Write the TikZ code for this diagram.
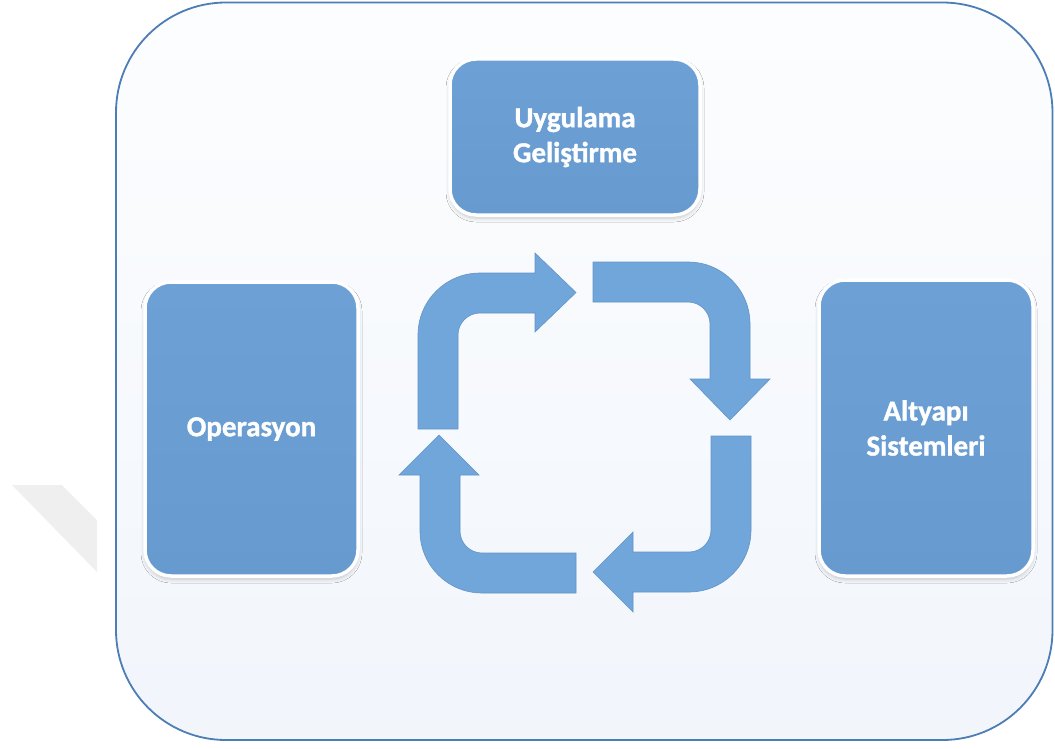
\documentclass[tikz,border=0pt]{standalone}
\usepackage{fontspec}
\setmainfont{Carlito}[BoldFeatures={FakeBold=1.2}]
\usetikzlibrary{shadows.blur}

\definecolor{framebot}{HTML}{ECF2FA}
\definecolor{frametop}{HTML}{D6E4F3}
\definecolor{frameline}{HTML}{4C7DB5}
\definecolor{boxtop}{HTML}{6DA1D6}
\definecolor{boxbot}{HTML}{679ACF}
\definecolor{arrowfill}{HTML}{70A6DA}
\definecolor{arrowline}{HTML}{6394C8}
\definecolor{ghost}{HTML}{EFEFEF}

\pgfdeclareverticalshading{frameshade}{100bp}{%
  color(0bp)=(framebot); color(88bp)=(white); color(96bp)=(white); color(100bp)=(frametop)}

\tikzset{
  stagebox/.style={draw=white, line width=3.5pt, rounded corners=26pt,
    top color=boxtop, bottom color=boxbot, inner sep=0pt, align=center,
    text=white, font=\bfseries\fontsize{29}{35}\selectfont,
    blur shadow={shadow xshift=0pt, shadow yshift=-3pt,
      shadow blur radius=4pt, shadow opacity=22}},
  cyclearrow/.style={fill=arrowfill, draw=arrowline, line width=0.6pt, line join=miter}
}

\begin{document}
\begin{tikzpicture}[x=1pt, y=-1pt]
  \useasboundingbox (0,0) rectangle (1055,749);

  % faint grey band on the left margin
  \fill[ghost] (12,485) -- (62,485) -- (97,520) -- (97,572) -- cycle;

  % outer frame
  \path[draw=frameline, line width=1.8pt, rounded corners=110pt, shading=frameshade]
    (116,2.5) rectangle (1052.5,740);

  % stage boxes
  \node[stagebox, minimum width=250pt, minimum height=156pt] (dev) at (575,137)
    {Uygulama\\Geliştirme};
  \node[stagebox, minimum width=213pt, minimum height=294pt] (ops) at (251.5,429)
    {Operasyon};
  \node[stagebox, minimum width=214pt, minimum height=296pt] (infra) at (926,428)
    {Altyapı\\Sistemleri};

  % cycle arrows: up-right, right-down, down-left, left-up
  \draw[cyclearrow] (418,429) -- (418,335) arc[start angle=180, end angle=270, radius=62]
    -- (535,273) -- (535,253) -- (576,292.5) -- (535,332) -- (535,313) -- (480,313)
    arc[start angle=270, end angle=180, radius=22] -- (458,429) -- cycle;
  \draw[cyclearrow] (593,262) -- (688,262) arc[start angle=270, end angle=360, radius=62]
    -- (750,379) -- (770,379) -- (730,420) -- (690,379) -- (710,379) -- (710,324)
    arc[start angle=0, end angle=-90, radius=22] -- (593,302) -- cycle;
  \draw[cyclearrow] (711,436) -- (751,436) -- (751,530) arc[start angle=0, end angle=90, radius=62]
    -- (633,592) -- (633,612) -- (593,572) -- (633,532) -- (633,552) -- (689,552)
    arc[start angle=90, end angle=0, radius=22] -- cycle;
  \draw[cyclearrow] (576,553) -- (576,593) -- (482,593) arc[start angle=90, end angle=180, radius=62]
    -- (420,475) -- (399,475) -- (439,435) -- (479,475) -- (460,475) -- (460,531)
    arc[start angle=180, end angle=90, radius=22] -- cycle;
\end{tikzpicture}
\end{document}
